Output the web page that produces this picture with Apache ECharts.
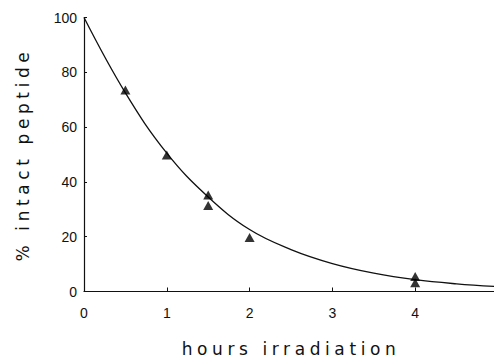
<!DOCTYPE html>
<html>
<head>
<meta charset="utf-8">
<script src="https://cdn.jsdelivr.net/npm/echarts@6/dist/echarts.min.js"></script>
<style>
  html, body { margin: 0; padding: 0; background: #fff; }
  #chart { width: 494px; height: 361px; }
  #chart text[style*="DejaVu"] { letter-spacing: 4.6px; }
</style>
</head>
<body>
<div id="chart"></div>
<script>
// Measured points (hours, % intact)
const pointHours = [0.5, 1, 1.5, 1.5, 2, 4, 4];
const pointPercent = [73.5, 49.8, 35.2, 31.4, 19.7, 5.5, 3.2];

// Fitted curve
const curveHours = [0, 0.5, 1, 1.5, 2, 2.5, 3, 3.5, 4, 4.5, 5];
const curvePercent = [100, 72.5, 50.5, 34.5, 22.6, 15.3, 10.2, 6.7, 4.3, 2.8, 1.8];

const xTicks = [0, 1, 2, 3, 4];
const yTicks = [0, 20, 40, 60, 80, 100];

const xTitle = 'hours irradiation';
const yTitle = '% intact peptide';

const chart = echarts.init(document.getElementById('chart'), null, { renderer: 'svg' });

const axisColor = '#111';
const tickFont = { fontFamily: 'Liberation Sans', fontSize: 14, color: '#111' };
const nameFont = { fontFamily: 'DejaVu Sans', fontSize: 17, color: '#111' };

chart.setOption({
  animation: false,
  backgroundColor: '#fff',
  grid: { left: 84, right: -4, top: 17.5, bottom: 69.5, containLabel: false, outerBoundsMode: 'none' },
  xAxis: {
    type: 'value',
    min: 0, max: 5, interval: 1,
    name: xTitle,
    nameLocation: 'middle',
    nameGap: 49,
    nameTextStyle: nameFont,
    axisLine: { show: true, lineStyle: { color: axisColor, width: 1.2 } },
    axisTick: { show: true, inside: true, length: 4, lineStyle: { color: axisColor } },
    axisLabel: Object.assign({ margin: 14, showMaxLabel: false,
      formatter: v => xTicks.includes(v) ? String(v) : '' }, tickFont),
    splitLine: { show: false }
  },
  yAxis: {
    type: 'value',
    min: 0, max: 100, interval: 20,
    name: yTitle,
    nameLocation: 'middle',
    nameGap: 53,
    nameTextStyle: nameFont,
    axisLine: { show: true, lineStyle: { color: axisColor, width: 1.2 } },
    axisTick: { show: true, inside: true, length: 3, lineStyle: { color: axisColor } },
    axisLabel: Object.assign({ margin: 7,
      formatter: v => yTicks.includes(v) ? String(v) : '' }, tickFont),
    splitLine: { show: false }
  },
  series: [
    {
      type: 'line',
      data: curveHours.map((h, i) => [h, curvePercent[i]]),
      smooth: 0.4,
      showSymbol: false,
      lineStyle: { color: '#111', width: 1.3 },
      z: 2
    },
    {
      type: 'scatter',
      data: pointHours.map((h, i) => [h, pointPercent[i]]),
      symbol: 'triangle',
      symbolSize: [10, 9],
      itemStyle: { color: '#000' },
      z: 3
    }
  ]
});
</script>
</body>
</html>
